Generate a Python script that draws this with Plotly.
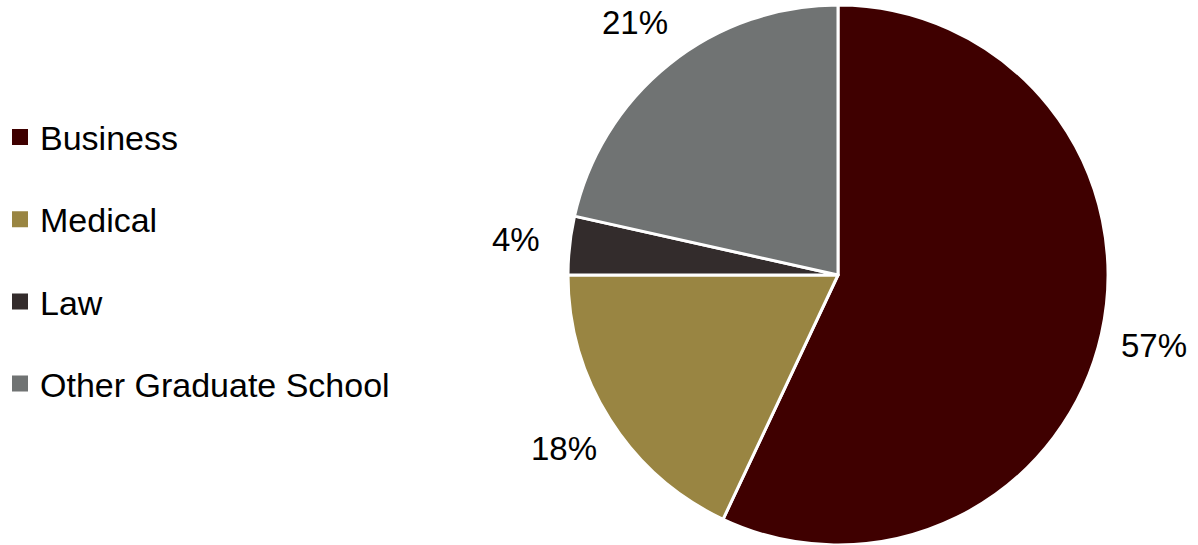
import math

import plotly.graph_objects as go

# slice data, clockwise from 12 o'clock
categories = ["Business", "Medical", "Law", "Other Graduate School"]
shares = [57.0, 18.0, 3.5, 21.5]
share_labels = ["57%", "18%", "4%", "21%"]
colors = ["#3f0000", "#998542", "#332c2c", "#707373"]

W, H = 1198, 545
TOP = 5
PLOT_H = H - TOP
CX = 838  # pie centre, px from left
R = PLOT_H / 2
LABEL_R = 1.2 * R
FONT = "Liberation Sans, Arial, sans-serif"

half_w = PLOT_H / 2 / W
domain_x = [CX / W - half_w, CX / W + half_w]

fig = go.Figure()
fig.add_trace(
    go.Pie(
        labels=categories,
        values=shares,
        sort=False,
        direction="clockwise",
        rotation=0,
        marker=dict(colors=colors, line=dict(color="white", width=3)),
        textinfo="none",
        hoverinfo="label+percent",
        showlegend=False,
        domain=dict(x=domain_x, y=[0, 1]),
    )
)

# legend entries as dummy traces so the rows can be spaced out
for i, (name, c) in enumerate(zip(categories, colors)):
    fig.add_trace(
        go.Scatter(
            x=[None],
            y=[None],
            mode="markers",
            name=name,
            legendgroup=f"g{i}",
            marker=dict(symbol="square", size=16, color=c),
        )
    )

# percentage labels placed outside each slice on its mid angle
total = sum(shares)
annotations = []
cum = 0.0
for s, txt in zip(shares, share_labels):
    mid = (cum + s / 2) / total * 2 * math.pi
    cum += s
    px = CX + LABEL_R * math.sin(mid)
    py = LABEL_R * math.cos(mid)
    annotations.append(
        dict(
            x=px / W,
            y=0.5 + py / PLOT_H,
            xref="paper",
            yref="paper",
            xanchor="center",
            yanchor="middle",
            text=txt,
            showarrow=False,
            font=dict(size=33, color="black", family=FONT),
        )
    )

fig.update_layout(
    width=W,
    height=H,
    margin=dict(l=0, r=0, t=TOP, b=0),
    paper_bgcolor="white",
    plot_bgcolor="white",
    xaxis=dict(visible=False),
    yaxis=dict(visible=False),
    annotations=annotations,
    legend=dict(
        x=0,
        y=0.527,
        xanchor="left",
        yanchor="middle",
        tracegroupgap=35,
        font=dict(size=34, color="black", family=FONT),
        bgcolor="rgba(0,0,0,0)",
    ),
    font=dict(family=FONT),
)

fig.write_html(
    "out.html",
    config={"displayModeBar": False},
    post_script="document.body.style.margin='0';document.body.style.overflow='hidden';",
)
